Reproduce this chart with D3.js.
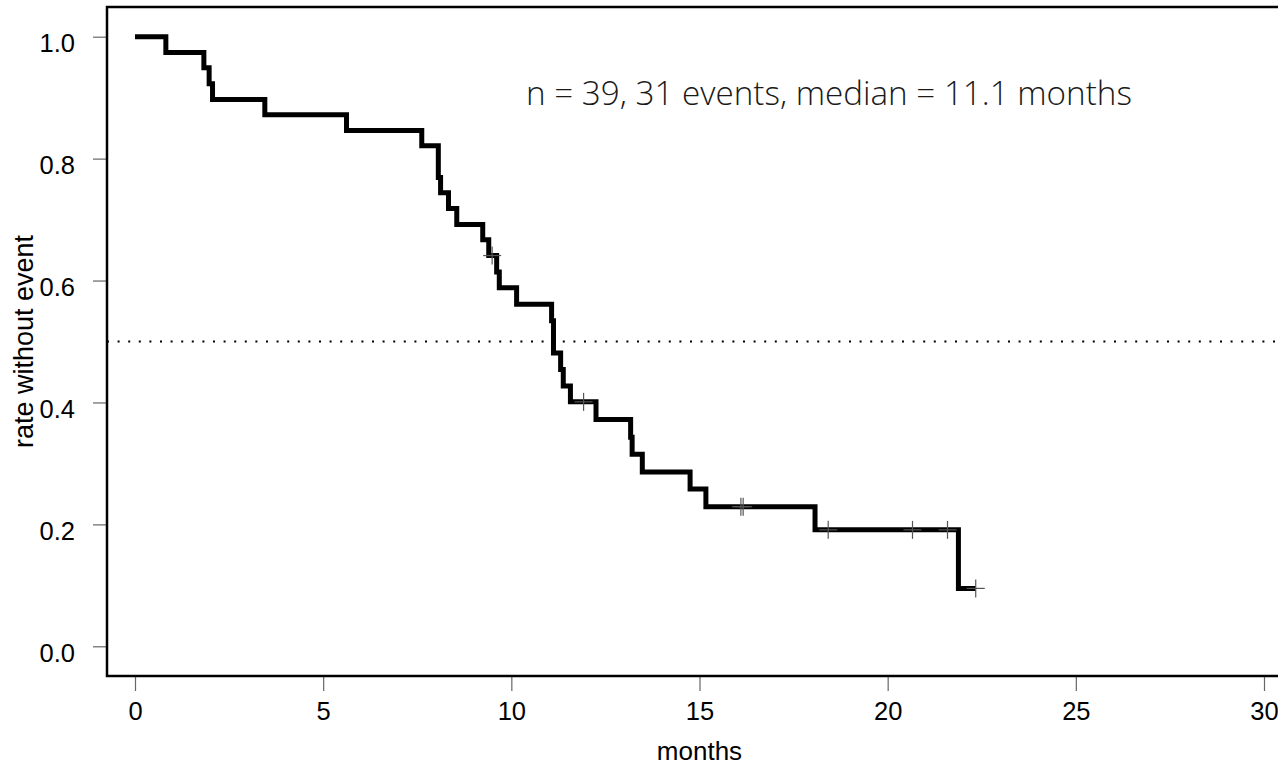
<!DOCTYPE html>
<html>
<head>
<meta charset="utf-8">
<script src="https://cdn.jsdelivr.net/npm/d3@7"></script>
<style>
  html, body { margin: 0; padding: 0; background: #fff; }
  svg { display: block; }
</style>
</head>
<body>
<svg id="chart" width="1278" height="768"></svg>
<script>
// Kaplan-Meier estimate: event times (months) and survival after each step
const eventTimes = [0.82, 1.83, 1.97, 2.06, 3.45, 5.62, 7.62, 8.06, 8.12, 8.33, 8.55,
  9.24, 9.40, 9.61, 9.68, 10.14, 11.07, 11.12, 11.31, 11.38, 11.57, 12.25,
  13.17, 13.21, 13.48, 14.75, 15.17, 18.07, 21.88];
const survival = [0.974, 0.949, 0.923, 0.897, 0.872, 0.846, 0.821, 0.769, 0.744, 0.718, 0.692,
  0.667, 0.641, 0.614, 0.588, 0.561, 0.534, 0.481, 0.454, 0.427, 0.401, 0.372,
  0.343, 0.315, 0.286, 0.258, 0.229, 0.191, 0.095];
// censored observations (months)
const censorTimes = [9.49, 11.92, 16.10, 16.16, 18.42, 20.66, 21.59, 22.34];

const xTicks = [0, 5, 10, 15, 20, 25, 30];
const yTicks = [0.0, 0.2, 0.4, 0.6, 0.8, 1.0];
const medianLevel = 0.5;
const summaryText = "n = 39, 31 events, median = 11.1 months";
const xTitle = "months";
const yTitle = "rate without event";

const svg = d3.select("#chart");
const box = { left: 107, top: 7, right: 1300, bottom: 676 };

const x = d3.scaleLinear().domain([0, 30]).range([135, 1264]);
const y = d3.scaleLinear().domain([0, 1]).range([646.3, 36.7]);

// survival value at time t (right-continuous step function)
function survAt(t) {
  let s = 1;
  for (let i = 0; i < eventTimes.length; i++) if (eventTimes[i] <= t) s = survival[i];
  return s;
}

// median reference line
svg.append("line")
  .attr("x1", box.left).attr("x2", 1278)
  .attr("y1", y(medianLevel)).attr("y2", y(medianLevel))
  .attr("stroke", "#000").attr("stroke-width", 2)
  .attr("stroke-dasharray", "2 8.6");

// axes
const fontAxis = "'Liberation Sans', Arial, sans-serif";
const xAxis = svg.append("g")
  .attr("transform", `translate(0,${box.bottom + 1})`)
  .call(d3.axisBottom(x).tickValues(xTicks).tickSize(14).tickPadding(10.5).tickFormat(d3.format("d")));
const yAxis = svg.append("g")
  .attr("transform", `translate(${box.left},0)`)
  .call(d3.axisLeft(y).tickValues(yTicks).tickSize(14).tickPadding(18).tickFormat(d3.format(".1f")));
[xAxis, yAxis].forEach(g => {
  g.select(".domain").remove();
  g.selectAll(".tick line").attr("stroke", "#666").attr("stroke-width", 1.2);
  g.selectAll(".tick text").attr("fill", "#000")
    .style("font-family", fontAxis).style("font-size", "25.5px");
});
yAxis.selectAll(".tick text").attr("y", 7);

// plot frame
svg.append("rect")
  .attr("x", box.left).attr("y", box.top)
  .attr("width", box.right - box.left).attr("height", box.bottom - box.top)
  .attr("fill", "none").attr("stroke", "#000").attr("stroke-width", 2.5);

// survival curve
const pts = [[0, 1]].concat(eventTimes.map((t, i) => [t, survival[i]]));
pts.push([d3.max(censorTimes), survAt(d3.max(censorTimes))]);
const line = d3.line().x(d => x(d[0])).y(d => y(d[1])).curve(d3.curveStepAfter);
svg.append("path")
  .datum(pts)
  .attr("d", line)
  .attr("fill", "none").attr("stroke", "#000")
  .attr("stroke-width", 5).attr("stroke-linejoin", "miter").attr("stroke-linecap", "butt");

// censor marks
const cs = 9;
const marks = svg.append("g").attr("stroke", "#555").attr("stroke-width", 1.2);
censorTimes.forEach(t => {
  const cx = x(t), cy = y(survAt(t));
  marks.append("line").attr("x1", cx - cs).attr("x2", cx + cs).attr("y1", cy).attr("y2", cy);
  marks.append("line").attr("x1", cx).attr("x2", cx).attr("y1", cy - cs).attr("y2", cy + cs);
});

// axis titles
svg.append("text")
  .attr("x", x(15)).attr("y", 760)
  .attr("text-anchor", "middle")
  .style("font-family", fontAxis).style("font-size", "26px")
  .text(xTitle);
svg.append("text")
  .attr("transform", `translate(33,${(box.top + box.bottom) / 2}) rotate(-90)`)
  .attr("text-anchor", "middle")
  .style("font-family", fontAxis).style("font-size", "27px")
  .text(yTitle);

// summary annotation, sized to span its slot
const note = svg.append("text")
  .attr("x", 526).attr("y", 105)
  .attr("fill", "#1a1a1a")
  .style("font-family", "'Open Sans', 'Noto Sans', sans-serif")
  .style("font-weight", 300)
  .style("font-size", "30px")
  .text(summaryText);
const w = note.node().getComputedTextLength();
note.style("font-size", (30 * 606 / w).toFixed(2) + "px");
</script>
</body>
</html>
